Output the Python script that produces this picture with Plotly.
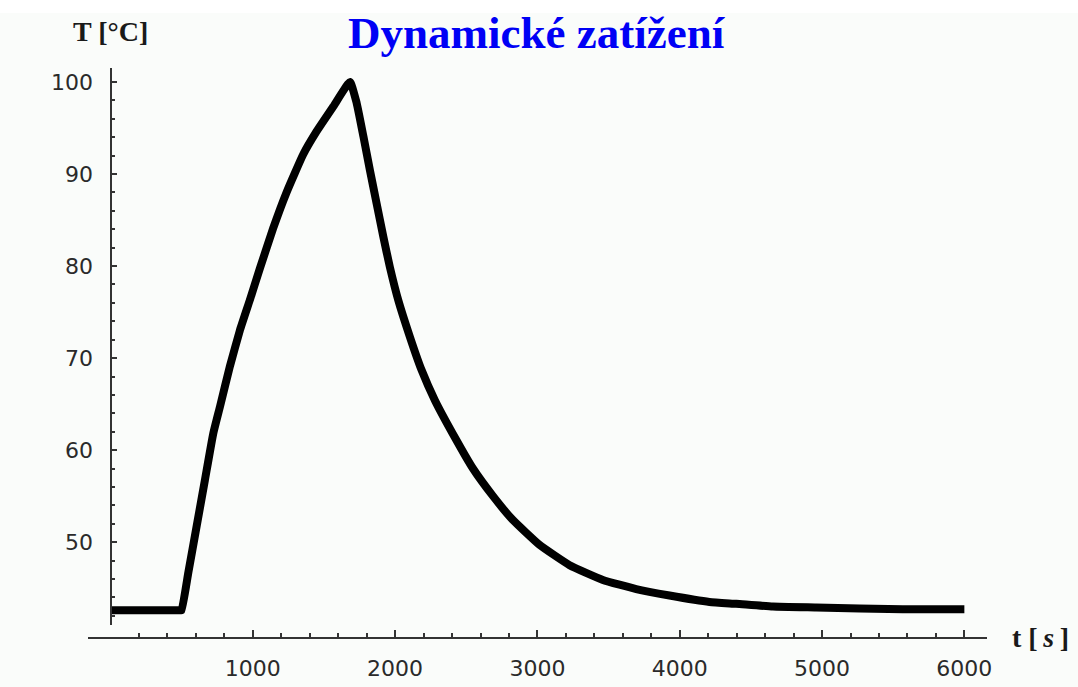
import plotly.graph_objects as go

# ---- data ----
time_s = [0, 492, 500, 547, 605, 663, 722, 769, 839, 909, 979, 1049, 1143, 1237, 1353,
          1447, 1564, 1683, 1730, 1777, 1823, 1870, 1917, 1963, 2022, 2104, 2186,
          2280, 2430, 2547, 2688, 2828, 3015, 3226, 3460, 3694, 3928, 4209, 4397,
          4654, 4958, 5567, 6000]
temp_c = [42.6, 42.6, 42.6, 46.7, 51.7, 56.7, 61.8, 64.7, 69.1, 73.0, 76.3, 79.7, 84.1,
          88.0, 92.1, 94.6, 97.3, 100.0, 97.7, 94.1, 90.4, 86.8, 83.2, 79.9, 76.3,
          72.3, 68.7, 65.4, 61.1, 58.0, 55.0, 52.4, 49.7, 47.5, 45.9, 44.9, 44.2,
          43.5, 43.3, 43.0, 42.9, 42.7, 42.7]

x_ticks = [1000, 2000, 3000, 4000, 5000, 6000]
x_tick_labels = ["1000", "2000", "3000", "4000", "5000", "6000"]
y_ticks = [50, 60, 70, 80, 90, 100]
y_tick_labels = ["50", "60", "70", "80", "90", "100"]

title_text = "Dynamické zatížení"
y_label = "<b>T [°C]</b>"
x_label = "<b>t [\u2009<i>s</i>\u2009]</b>"

# ---- layout geometry ----
W, H = 1078, 687
L, R, T, B = 88, 91, 68, 49
plot_w = W - L - R
plot_h = H - T - B
BOTTOM = T + plot_h  # pixel row of the plot-area bottom


def px_y(p):
    """pixel row -> paper fraction"""
    return (BOTTOM - p) / plot_h


def px_x(p):
    return (p - L) / plot_w


x_minor = [v for v in range(200, 6000, 200) if v % 1000]

BG = "#fafcfa"
AX = "#333333"
tick_font = dict(family="DejaVu Sans", size=22, color="#2a2a2a")

fig = go.Figure()
fig.add_trace(go.Scatter(
    x=time_s, y=temp_c, mode="lines",
    line=dict(color="black", width=8, shape="spline", smoothing=0.4),
    hoverinfo="skip", showlegend=False,
))

fig.update_layout(
    width=W, height=H,
    margin=dict(l=L, r=R, t=T, b=B, pad=0, autoexpand=False),
    paper_bgcolor=BG, plot_bgcolor=BG,
    xaxis=dict(
        range=[-158, 6159], domain=[0, 1],
        anchor="free", position=0, automargin=False,
        showgrid=False, zeroline=False,
        showline=True, linecolor=AX, linewidth=2,
        tickmode="array", tickvals=x_ticks, ticktext=x_tick_labels,
        ticks="inside", ticklen=7, tickwidth=1.5, tickcolor=AX,
        ticklabelstandoff=11,
        tickfont=tick_font,
        minor=dict(tickmode="array", tickvals=x_minor, ticks="inside",
                   ticklen=4, tickwidth=1.5, tickcolor=AX),
    ),
    yaxis=dict(
        range=[41.0, 101.52], domain=[13 / plot_h, 1],
        anchor="free", position=px_x(110.5), automargin=False,
        showgrid=False, zeroline=False,
        showline=True, linecolor=AX, linewidth=2,
        tickmode="array", tickvals=y_ticks, ticktext=y_tick_labels,
        ticks="inside", ticklen=5, tickwidth=1.5, tickcolor=AX,
        ticklabelstandoff=12,
        tickfont=tick_font,
        minor=dict(dtick=2, tick0=0, ticks="inside",
                   ticklen=3, tickwidth=1.5, tickcolor=AX),
    ),
    shapes=[dict(type="rect", xref="paper", yref="paper",
                 x0=-0.2, x1=1.2, y0=px_y(13), y1=px_y(-20),
                 fillcolor="white", line=dict(width=0), layer="below")],
    annotations=[
        dict(text=title_text, xref="paper", yref="paper",
             x=px_x(537), y=px_y(33),
             xanchor="center", yanchor="middle", showarrow=False,
             font=dict(family="Liberation Serif", size=45, color="#0000f5",
                       weight="bold")),
        dict(text=y_label, xref="paper", yref="paper",
             x=px_x(110), y=px_y(31),
             xanchor="center", yanchor="middle", showarrow=False,
             font=dict(family="Liberation Serif", size=28, color="#1a1a1a")),
        dict(text=x_label, xref="paper", yref="paper",
             x=px_x(1040), y=px_y(637),
             xanchor="center", yanchor="middle", showarrow=False,
             font=dict(family="Liberation Serif", size=28, color="#1a1a1a")),
    ],
)

fig.write_html("out.html")
